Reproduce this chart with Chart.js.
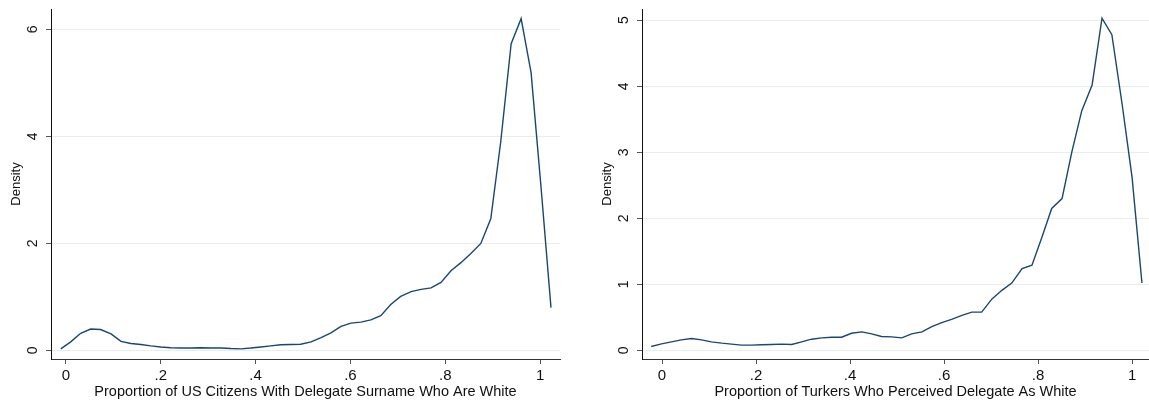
<!DOCTYPE html>
<html>
<head>
<meta charset="utf-8">
<script src="https://cdn.jsdelivr.net/npm/chart.js@4.4.1/dist/chart.umd.min.js"></script>
<style>
  html, body { margin: 0; padding: 0; background: #fff; }
  #left, #right { position: absolute; top: 0; }
  #left { left: 0; }
  #right { left: 591px; }
</style>
</head>
<body>
<canvas id="left" width="575" height="402"></canvas>
<canvas id="right" width="558" height="402"></canvas>
<script>
// left panel: US citizens with delegate surname
const usX = [-0.011, 0.010, 0.031, 0.052, 0.073, 0.095, 0.116, 0.137, 0.158, 0.179,
  0.200, 0.221, 0.242, 0.263, 0.284, 0.306, 0.327, 0.348, 0.369, 0.390,
  0.411, 0.432, 0.453, 0.474, 0.495, 0.517, 0.538, 0.559, 0.580, 0.601,
  0.622, 0.643, 0.664, 0.685, 0.706, 0.728, 0.749, 0.770, 0.791, 0.812,
  0.833, 0.854, 0.875, 0.896, 0.917, 0.939, 0.960, 0.981, 1.002, 1.023];
const usDensity = [0.03, 0.16, 0.32, 0.40, 0.39, 0.31, 0.17, 0.13, 0.11, 0.085,
  0.065, 0.05, 0.045, 0.045, 0.05, 0.045, 0.045, 0.035, 0.03, 0.045,
  0.065, 0.085, 0.105, 0.11, 0.115, 0.16, 0.24, 0.33, 0.45, 0.51,
  0.53, 0.57, 0.65, 0.86, 1.01, 1.10, 1.14, 1.17, 1.27, 1.49,
  1.64, 1.81, 2.00, 2.46, 3.90, 5.73, 6.20, 5.19, 3.05, 0.80];

// right panel: turkers' perception
const tkX = [-0.023, -0.001, 0.020, 0.041, 0.063, 0.084, 0.105, 0.127, 0.148, 0.169,
  0.190, 0.212, 0.233, 0.254, 0.276, 0.297, 0.318, 0.340, 0.361, 0.382,
  0.403, 0.425, 0.446, 0.467, 0.489, 0.510, 0.531, 0.553, 0.574, 0.595,
  0.616, 0.638, 0.659, 0.680, 0.702, 0.723, 0.744, 0.766, 0.787, 0.808,
  0.829, 0.851, 0.872, 0.893, 0.915, 0.936, 0.957, 0.979, 1.000, 1.021];
const tkDensity = [0.06, 0.10, 0.13, 0.16, 0.18, 0.16, 0.13, 0.11, 0.095, 0.08,
  0.08, 0.085, 0.09, 0.095, 0.09, 0.13, 0.17, 0.19, 0.20, 0.20,
  0.26, 0.28, 0.25, 0.21, 0.205, 0.19, 0.25, 0.28, 0.36, 0.42,
  0.47, 0.53, 0.58, 0.58, 0.78, 0.91, 1.02, 1.24, 1.29, 1.71,
  2.15, 2.30, 3.01, 3.63, 4.02, 5.03, 4.78, 3.72, 2.62, 1.02];

const xTicks = [0, 0.2, 0.4, 0.6, 0.8, 1];
const xTickLabels = ['0', '.2', '.4', '.6', '.8', '1'];
const usYTicks = [0, 2, 4, 6];
const tkYTicks = [0, 1, 2, 3, 4, 5];

const FONT = '"Liberation Sans", Arial, Helvetica, sans-serif';
const LINE = '#1a476f';
const GRID = '#e6eef0';

// y tick labels are rotated like Stata's, so draw them by hand
const rotatedYLabels = {
  id: 'rotatedYLabels',
  afterDraw(chart) {
    const ctx = chart.ctx;
    const y = chart.scales.y;
    ctx.save();
    ctx.font = '14px ' + FONT;
    ctx.fillStyle = '#111';
    ctx.textAlign = 'center';
    ctx.textBaseline = 'middle';
    y.ticks.forEach(t => {
      ctx.save();
      ctx.translate(y.right - 18, y.getPixelForValue(t.value));
      ctx.rotate(-Math.PI / 2);
      ctx.fillText(String(t.value), 0, 0);
      ctx.restore();
    });
    ctx.restore();
  }
};

function makeChart(id, xs, ys, xMin, xMax, yMin, yMax, yTicks, xTitle, padRight) {
  const pts = xs.map((x, i) => ({ x: x, y: ys[i] }));
  return new Chart(document.getElementById(id), {
    type: 'line',
    data: {
      datasets: [{
        data: pts,
        borderColor: LINE,
        borderWidth: 1.4,
        pointRadius: 0,
        tension: 0,
        fill: false
      }]
    },
    options: {
      responsive: false,
      animation: false,
      layout: { padding: { top: 9, right: padRight, bottom: 0, left: 0 } },
      plugins: { legend: { display: false }, tooltip: { enabled: false } },
      scales: {
        x: {
          type: 'linear',
          min: xMin,
          max: xMax,
          afterBuildTicks: s => { s.ticks = xTicks.map(v => ({ value: v })); },
          afterFit: s => { s.height = 43; },
          grid: { drawOnChartArea: false, drawTicks: true, tickLength: 5, tickColor: '#555' },
          border: { display: true, color: '#333', width: 1 },
          ticks: {
            padding: 3,
            color: '#111',
            font: { family: FONT, size: 15 },
            maxRotation: 0,
            callback: (v, i) => xTickLabels[i]
          },
          title: {
            display: true,
            text: xTitle,
            color: '#111',
            font: { family: FONT, size: 14.5 },
            padding: { top: 0, bottom: 1 }
          }
        },
        y: {
          type: 'linear',
          min: yMin,
          max: yMax,
          afterBuildTicks: s => { s.ticks = yTicks.map(v => ({ value: v })); },
          afterFit: s => { s.width = 51; },
          grid: { color: GRID, lineWidth: 1, drawTicks: true, tickLength: 5, tickColor: '#555' },
          border: { display: true, color: '#111', width: 1 },
          ticks: { display: false },
          title: {
            display: true,
            text: 'Density',
            color: '#111',
            font: { family: FONT, size: 13 },
            padding: { top: 9, bottom: 0 }
          }
        }
      }
    },
    plugins: [rotatedYLabels]
  });
}

makeChart('left', usX, usDensity, -0.0316, 1.042, -0.16, 6.38, usYTicks,
  'Proportion of US Citizens With Delegate Surname Who Are White', 15);
makeChart('right', tkX, tkDensity, -0.0426, 1.036, -0.13, 5.17, tkYTicks,
  'Proportion of Turkers Who Perceived Delegate As White', 0);
</script>
</body>
</html>
